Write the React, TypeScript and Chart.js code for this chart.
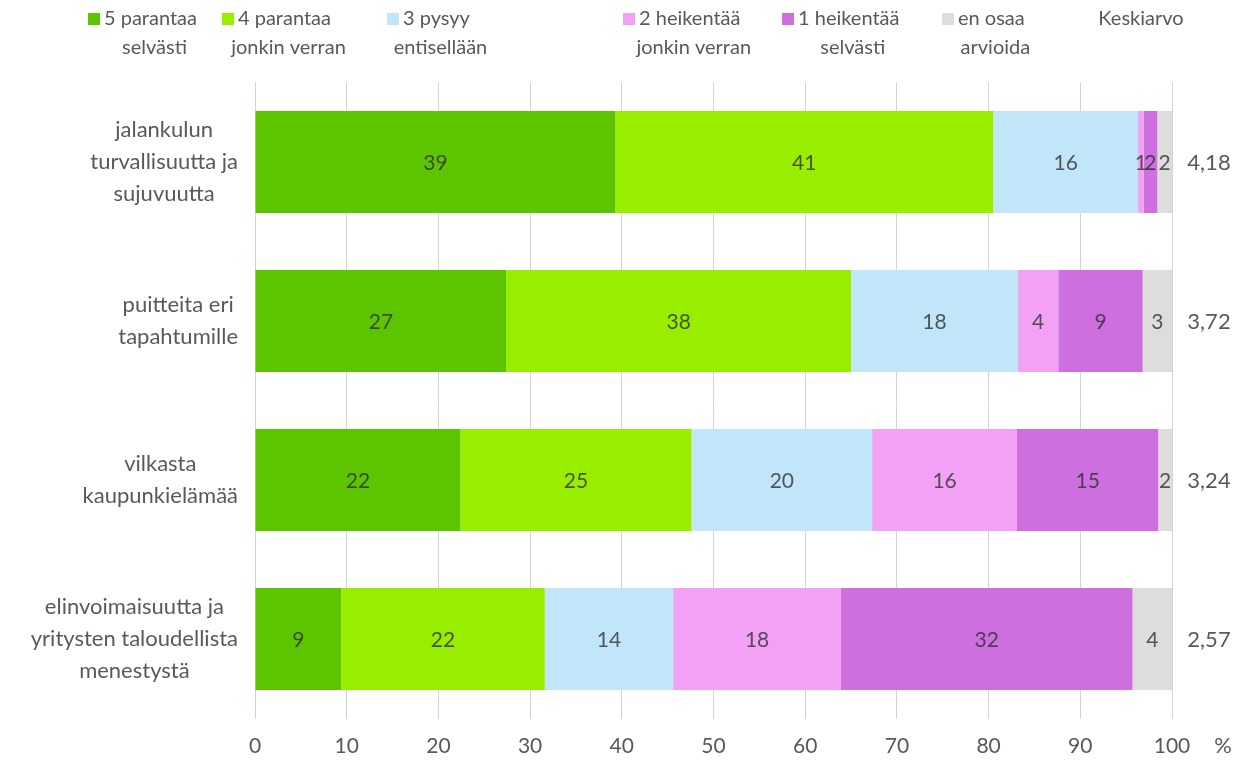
import React, { useEffect, useRef } from "react";
import { Chart, registerables } from "chart.js";

Chart.register(...registerables);

const categories: string[][] = [
  ["jalankulun", "turvallisuutta ja", "sujuvuutta"],
  ["puitteita eri", "tapahtumille"],
  ["vilkasta", "kaupunkielämää"],
  ["elinvoimaisuutta ja", "yritysten taloudellista", "menestystä"],
];

const seriesNames: string[][] = [
  ["5 parantaa", "selvästi"],
  ["4 parantaa", "jonkin verran"],
  ["3 pysyy", "entisellään"],
  ["2 heikentää", "jonkin verran"],
  ["1 heikentää", "selvästi"],
  ["en osaa", "arvioida"],
];

const s5 = [39.3, 27.4, 22.4, 9.4];
const s4 = [41.2, 37.6, 25.2, 22.2];
const s3 = [15.8, 18.2, 19.7, 14.0];
const s2 = [0.6, 4.4, 15.8, 18.3];
const s1 = [1.5, 9.2, 15.4, 31.8];
const sEos = [1.6, 3.2, 1.5, 4.3];

const means = [4.18, 3.72, 3.24, 2.57];
const meanTitle = "Keskiarvo";
const xTicks = [0, 10, 20, 30, 40, 50, 60, 70, 80, 90, 100];
const unitLabel = "%";

const colors = ["#5dc400", "#99ee00", "#c1e6fa", "#f2a1f5", "#cd6fdf", "#dddddd"];

const FONT = "Lato, 'Open Sans', sans-serif";
const TEXT = "#595959";

export default function App() {
  const ref = useRef<HTMLCanvasElement>(null);
  useEffect(() => {
    if (!ref.current) return;
    const seriesData = [s5, s4, s3, s2, s1, sEos];
    const legendX = [88, 222, 387, 623, 782, 942];

    const overlay = {
      id: "overlay",
      afterDatasetsDraw(chart: any) {
        const ctx = chart.ctx;
        ctx.save();
        ctx.font = `21px ${FONT}`;
        ctx.fillStyle = "rgba(45,45,45,0.78)";
        ctx.textAlign = "center";
        ctx.textBaseline = "middle";
        chart.data.datasets.forEach((ds: any, i: number) => {
          const meta = chart.getDatasetMeta(i);
          meta.data.forEach((bar: any, j: number) => {
            const v = ds.data[j];
            const cx = (bar.x + bar.base) / 2;
            ctx.fillText(String(Math.round(v)), cx, bar.y + 1);
          });
        });
        ctx.restore();
      },
      afterDraw(chart: any) {
        const ctx = chart.ctx;
        const area = chart.chartArea;
        const yScale = chart.scales.y;
        const xScale = chart.scales.x;
        ctx.save();
        ctx.font = `20px ${FONT}`;
        ctx.fillStyle = TEXT;
        ctx.textBaseline = "middle";
        // legend
        seriesNames.forEach((lines, i) => {
          const mx = legendX[i];
          ctx.fillStyle = colors[i];
          ctx.fillRect(mx, 13, 12, 12);
          ctx.fillStyle = TEXT;
          ctx.textAlign = "left";
          const tx = mx + 16;
          ctx.fillText(lines[0], tx, 19);
          const w0 = ctx.measureText(lines[0]).width;
          ctx.textAlign = "center";
          ctx.fillText(lines[1], tx + w0 / 2 + 4, 48);
        });
        ctx.textAlign = "center";
        ctx.fillText(meanTitle, 1141, 19);
        // category labels
        ctx.font = `22px ${FONT}`;
        categories.forEach((lines, j) => {
          const cy = yScale.getPixelForValue(j);
          let maxW = 0;
          lines.forEach((l) => (maxW = Math.max(maxW, ctx.measureText(l).width)));
          const cx = 238 - maxW / 2;
          const lh = 32;
          const startY = cy - ((lines.length - 1) * lh) / 2;
          lines.forEach((l, k) => ctx.fillText(l, cx, startY + k * lh));
        });
        // means
        means.forEach((m, j) => {
          const cy = yScale.getPixelForValue(j);
          ctx.fillText(m.toFixed(2).replace(".", ","), 1209, cy + 1);
        });
        // unit
        ctx.fillText(unitLabel, xScale.right + 51, area.bottom + 27);
        ctx.restore();
      },
    };

    const chart = new Chart(ref.current, {
      type: "bar",
      data: {
        labels: categories.map((c) => c.join(" ")),
        datasets: seriesData.map((d, i) => ({
          label: seriesNames[i].join(" "),
          data: d,
          backgroundColor: colors[i],
          borderWidth: 0,
          barPercentage: 0.64,
          categoryPercentage: 1,
        })),
      },
      options: {
        indexAxis: "y",
        responsive: false,
        animation: false,
        layout: { padding: { top: 82.5, right: 74, left: 0, bottom: 0 } },
        plugins: { legend: { display: false }, tooltip: { enabled: false } },
        scales: {
          x: {
            stacked: true,
            min: 0,
            max: 100,
            afterBuildTicks: (s: any) => {
              s.ticks = xTicks.map((v) => ({ value: v }));
            },
            afterFit: (s: any) => {
              s.height = 44.5;
            },
            grid: { color: "#d4d4d4", drawTicks: false },
            border: { display: false },
            ticks: {
              padding: 15,
              color: TEXT,
              font: { family: FONT, size: 21 },
            },
          },
          y: {
            stacked: true,
            afterFit: (s: any) => {
              s.width = 255;
            },
            grid: { display: false },
            border: { display: true, color: "#d4d4d4" },
            ticks: { display: false },
          },
        },
      },
      plugins: [overlay],
    });
    return () => chart.destroy();
  }, []);

  return (
    <div style={{ position: "absolute", left: 0, top: 0, width: 1246, height: 763, background: "#fff" }}>
      <canvas ref={ref} width={1246} height={763} />
    </div>
  );
}
